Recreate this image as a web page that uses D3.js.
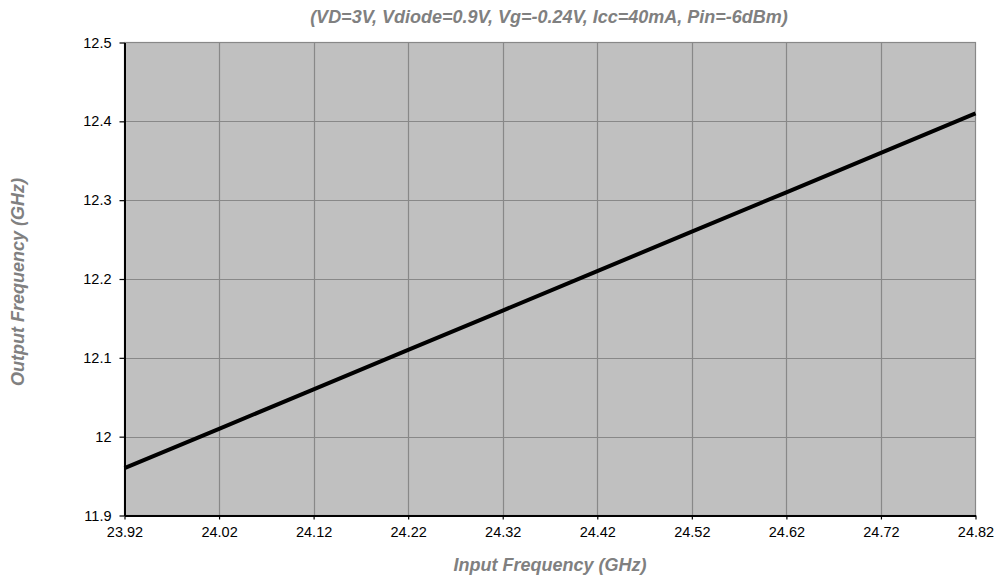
<!DOCTYPE html>
<html>
<head>
<meta charset="utf-8">
<script src="https://cdn.jsdelivr.net/npm/d3@7/dist/d3.min.js"></script>
<style>
  html, body { margin: 0; padding: 0; background: #fff; }
  svg { display: block; font-family: "Liberation Sans", Arial, sans-serif; }
</style>
</head>
<body>
<svg id="chart" width="997" height="581"></svg>
<script>
// Input frequency (GHz) and measured output frequency (GHz)
const inputFreq  = [23.92, 24.02, 24.12, 24.22, 24.32, 24.42, 24.52, 24.62, 24.72, 24.82];
const outputFreq = [11.96, 12.01, 12.06, 12.11, 12.16, 12.21, 12.26, 12.31, 12.36, 12.41];
const xTicks = [23.92, 24.02, 24.12, 24.22, 24.32, 24.42, 24.52, 24.62, 24.72, 24.82];
const yTicks = [11.9, 12, 12.1, 12.2, 12.3, 12.4, 12.5];
const titleText = "(VD=3V, Vdiode=0.9V, Vg=-0.24V, Icc=40mA, Pin=-6dBm)";
const xLabel = "Input Frequency (GHz)";
const yLabel = "Output Frequency (GHz)";

const svg = d3.select("#chart");
const plot = { left: 124.5, right: 975.5, top: 42.5, bottom: 515.5 };

const x = d3.scaleLinear().domain([23.92, 24.82]).range([plot.left, plot.right]);
const y = d3.scaleLinear().domain([11.9, 12.5]).range([plot.bottom, plot.top]);

// plot area
svg.append("rect")
  .attr("x", plot.left).attr("y", plot.top)
  .attr("width", plot.right - plot.left).attr("height", plot.bottom - plot.top)
  .attr("fill", "#c0c0c0")
  .attr("stroke", "#888").attr("stroke-width", 1.2);

// grid
svg.append("g").selectAll("line").data(xTicks.slice(1, -1)).join("line")
  .attr("x1", d => Math.round(x(d)) + 0.5).attr("x2", d => Math.round(x(d)) + 0.5)
  .attr("y1", plot.top).attr("y2", plot.bottom)
  .attr("stroke", "#888").attr("stroke-width", 1.2);
svg.append("g").selectAll("line").data(yTicks.slice(1, -1)).join("line")
  .attr("y1", d => Math.round(y(d)) + 0.5).attr("y2", d => Math.round(y(d)) + 0.5)
  .attr("x1", plot.left).attr("x2", plot.right)
  .attr("stroke", "#888").attr("stroke-width", 1.2);

// axes
const xAxis = d3.axisBottom(x).tickValues(xTicks).tickSize(4).tickPadding(7)
  .tickFormat(d3.format(".2f")).tickSizeOuter(0);
const yAxis = d3.axisLeft(y).tickValues(yTicks).tickSize(5).tickPadding(8)
  .tickFormat(d => String(+d.toFixed(1))).tickSizeOuter(0);

const gx = svg.append("g").attr("transform", `translate(0,${plot.bottom})`).call(xAxis);
const gy = svg.append("g").attr("transform", `translate(${plot.left},0)`).call(yAxis);
[gx, gy].forEach(g => {
  g.select(".domain").attr("stroke", "#000").attr("stroke-width", 2);
  g.selectAll(".tick line").attr("stroke", "#000").attr("stroke-width", 1.2);
  g.selectAll(".tick text").attr("fill", "#000").attr("font-size", 14.5)
    .attr("font-family", "Liberation Sans, Arial, sans-serif");
});

// data line
svg.append("path")
  .datum(inputFreq.map((v, i) => [v, outputFreq[i]]))
  .attr("fill", "none")
  .attr("stroke", "#000")
  .attr("stroke-width", 4)
  .attr("d", d3.line().x(d => x(d[0])).y(d => y(d[1])));

// titles
svg.append("text")
  .attr("x", 549).attr("y", 23)
  .attr("text-anchor", "middle")
  .attr("font-size", 18).attr("font-weight", "bold").attr("font-style", "italic")
  .attr("fill", "#808080")
  .text(titleText);

svg.append("text")
  .attr("x", 550).attr("y", 571)
  .attr("text-anchor", "middle")
  .attr("font-size", 18).attr("font-weight", "bold").attr("font-style", "italic")
  .attr("fill", "#808080")
  .text(xLabel);

svg.append("text")
  .attr("transform", "translate(24,282) rotate(-90)")
  .attr("text-anchor", "middle")
  .attr("font-size", 18).attr("font-weight", "bold").attr("font-style", "italic")
  .attr("fill", "#808080")
  .text(yLabel);
</script>
</body>
</html>
